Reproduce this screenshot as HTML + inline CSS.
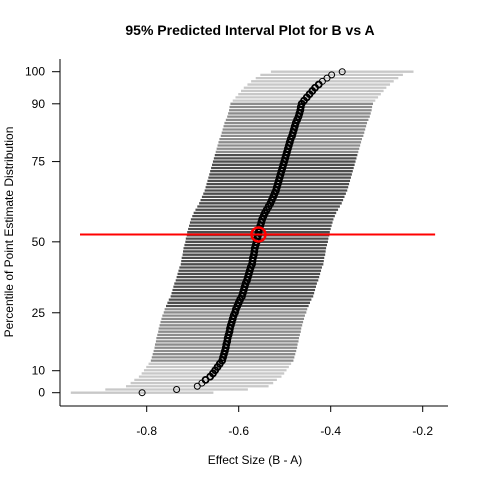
<!DOCTYPE html>
<html><head><meta charset="utf-8"><style>
html,body{margin:0;padding:0;background:#fff}
svg{display:block;font-family:"Liberation Sans",Arial,sans-serif}
</style></head><body>
<svg id="chart" width="480" height="480" viewBox="0 0 480 480">
<text x="250" y="35" text-anchor="middle" font-size="14" font-weight="bold">95% Predicted Interval Plot for B vs A</text>
<g id="bars"></g>
<g id="pts"></g>
<g id="axes"></g>
<text x="255" y="464" text-anchor="middle" font-size="12">Effect Size (B - A)</text>
<text transform="translate(13,232) rotate(-90)" text-anchor="middle" font-size="12">Percentile of Point Estimate Distribution</text>
</svg>
<script>
const estimates = [-0.81,-0.735,-0.69,-0.68,-0.672,-0.662,-0.656,-0.651,-0.646,-0.641,-0.636,
-0.634,-0.632,-0.630,-0.628,-0.627,-0.625,-0.624,-0.622,-0.620,-0.619,
-0.617,-0.615,-0.613,-0.611,-0.608,-0.606,-0.603,-0.600,-0.597,-0.593,
-0.591,-0.589,-0.587,-0.585,-0.582,-0.580,-0.578,-0.576,-0.574,-0.571,
-0.570,-0.569,-0.567,-0.566,-0.565,-0.563,-0.561,-0.560,-0.558,-0.557,
-0.555,-0.553,-0.551,-0.549,-0.546,-0.543,-0.539,-0.535,-0.531,-0.528,
-0.525,-0.522,-0.519,-0.517,-0.515,-0.513,-0.511,-0.509,-0.507,-0.505,
-0.503,-0.501,-0.499,-0.497,-0.495,-0.493,-0.491,-0.489,-0.487,-0.484,
-0.482,-0.480,-0.478,-0.476,-0.473,-0.470,-0.468,-0.466,-0.465,-0.463,
-0.458,-0.452,-0.446,-0.440,-0.434,-0.426,-0.418,-0.408,-0.398,-0.375];
const halfWidth = 0.155;
const bandBreaks = [10, 27, 75, 91];
const medianRow = 49.3;
const medianEstimate = -0.557;
const medianInterval = [-0.945, -0.173];
const xTicks = [-0.8, -0.6, -0.4, -0.2];
const xTickLabels = ["-0.8", "-0.6", "-0.4", "-0.2"];
const yTickRows = [0, 6.85, 24.9, 47, 72, 90, 100];
const yTickLabels = ["0", "10", "25", "50", "75", "90", "100"];

const NS = "http://www.w3.org/2000/svg";
const xS = v => 146.7 + (v + 0.8) * 460;
const yS = r => 392.7 - r * 3.21;
function mk(tag, attrs, parent){const e=document.createElementNS(NS,tag);for(const k in attrs)e.setAttribute(k,attrs[k]);parent.appendChild(e);return e;}
const bars=document.getElementById('bars'), pts=document.getElementById('pts'), axes=document.getElementById('axes');
function colorFor(i){
  if(i<bandBreaks[0]||i>=bandBreaks[3]) return '#c8c8c8';
  if(i<bandBreaks[1]||i>=bandBreaks[2]) return '#8c8c8c';
  return '#4d4d4d';
}
estimates.forEach((v,i)=>{
  const l=mk('line',{x1:xS(v-halfWidth),x2:xS(v+halfWidth),y1:yS(i),y2:yS(i),stroke:colorFor(i),'stroke-width':2.3},bars);
  
  
});
estimates.forEach((v,i)=>{
  const dense = i>3 && i<97;
  const c=mk('circle',{cx:xS(v),cy:yS(i),r:3,fill:'none',stroke:'#000','stroke-width':dense?1.8:1},pts);
  
  
});
const ml=mk('line',{x1:xS(medianInterval[0]),x2:xS(medianInterval[1]),y1:yS(medianRow),y2:yS(medianRow),stroke:'#f00','stroke-width':2},pts);


const mc=mk('circle',{cx:xS(medianEstimate),cy:yS(medianRow),r:7,fill:'none',stroke:'#f00','stroke-width':2.5},pts);


const ya=mk('line',{x1:60,x2:60,y1:59,y2:406,stroke:'#000','stroke-width':1},axes);


const xa=mk('line',{x1:60,x2:448,y1:406,y2:406,stroke:'#000','stroke-width':1},axes);


xTicks.forEach((t,i)=>{
  const tk=mk('line',{x1:xS(t),x2:xS(t),y1:406,y2:412,stroke:'#000'},axes);
  
  
  const tx=mk('text',{x:xS(t),y:435,'text-anchor':'middle','font-size':12},axes);
  tx.textContent=xTickLabels[i];
  
  
});
yTickRows.forEach((r,i)=>{
  const tk=mk('line',{x1:52,x2:60,y1:yS(r),y2:yS(r),stroke:'#000'},axes);
  
  
  const tx=mk('text',{x:45,y:yS(r)+4,'text-anchor':'end','font-size':12},axes);
  tx.textContent=yTickLabels[i];
  
  
});
</script>
</body></html>
